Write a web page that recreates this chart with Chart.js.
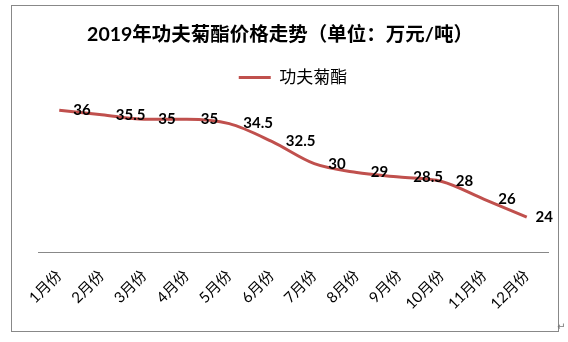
<!DOCTYPE html>
<html>
<head>
<meta charset="utf-8">
<title>2019年功夫菊酯价格走势</title>
<script src="https://cdn.jsdelivr.net/npm/chart.js@4/dist/chart.umd.min.js"></script>
<style>
  html, body { margin: 0; padding: 0; background: #fff; }
  #wrap { position: relative; width: 568px; height: 342px; }
  #priceChart { position: absolute; left: 0; top: 0; }
  #frame {
    position: absolute; left: 11px; top: 5px;
    width: 546px; height: 325px;
    border: 1px solid #888; pointer-events: none;
  }
  #mark {
    position: absolute; left: 557px; top: 321px;
    font: 10px "DejaVu Sans", sans-serif; color: #777;
  }
</style>
</head>
<body>
<div id="wrap">
  <canvas id="priceChart" width="568" height="342"></canvas>
  <div id="frame"></div>
  <span id="mark">↵</span>
</div>
<script>
// 月份 / 价格（万元/吨）
const months = ['1月份', '2月份', '3月份', '4月份', '5月份', '6月份',
                '7月份', '8月份', '9月份', '10月份', '11月份', '12月份'];
const prices = [36, 35.5, 35, 35, 34.5, 32.5, 30, 29, 28.5, 28, 26, 24];
const seriesName = '功夫菊酯';
const chartTitle = '2019年功夫菊酯价格走势（单位：万元/吨）';

const FONT = "Lato, 'Noto Sans CJK SC', sans-serif";
const LINE_COLOR = 'rgb(192, 80, 77)';

/**
 * Title drawn by hand so it can sit slightly left of the plot centre
 */
const titlePlugin = {
  id: 'manualTitle',
  afterDraw(chart) {
    const ctx = chart.ctx;
    ctx.save();
    ctx.font = 'bold 19.5px ' + FONT;
    ctx.fillStyle = '#000';
    ctx.textAlign = 'center';
    ctx.textBaseline = 'middle';
    ctx.fillText(chartTitle, 280, 35);
    ctx.restore();
  }
};

/**
 * Value labels to the right of each point
 */
const valueLabels = {
  id: 'valueLabels',
  afterDatasetsDraw(chart) {
    const ctx = chart.ctx;
    const meta = chart.getDatasetMeta(0);
    ctx.save();
    ctx.font = 'bold 15px ' + FONT;
    ctx.fillStyle = '#000';
    ctx.textAlign = 'left';
    ctx.textBaseline = 'middle';
    meta.data.forEach((pt, i) => {
      const text = String(prices[i]);
      const w = ctx.measureText(text).width;
      // keep the last label inside the frame
      const x = Math.min(pt.x + 14, 553 - w);
      ctx.fillText(text, x, pt.y);
    });
    ctx.restore();
  }
};

const ctx = document.getElementById('priceChart');
new Chart(ctx, {
  type: 'line',
  data: {
    labels: months,
    datasets: [{
      label: seriesName,
      data: prices,
      borderColor: LINE_COLOR,
      backgroundColor: LINE_COLOR,
      borderWidth: 3,
      pointRadius: 0,
      tension: 0.35,
      cubicInterpolationMode: 'monotone',
      fill: false
    }]
  },
  options: {
    responsive: false,
    animation: false,
    layout: {
      padding: { top: 64, left: 38, right: 20, bottom: 15 }
    },
    plugins: {
      title: { display: false },
      tooltip: { enabled: false },
      legend: {
        display: true,
        position: 'top',
        labels: {
          usePointStyle: true,
          pointStyle: 'line',
          pointStyleWidth: 32,
          padding: 5,
          color: '#000',
          font: { family: FONT, size: 17 }
        }
      }
    },
    scales: {
      x: {
        offset: true,
        grid: { display: false, drawTicks: false },
        border: { display: true, color: '#888', width: 1 },
        ticks: {
          minRotation: 45,
          maxRotation: 45,
          autoSkip: false,
          padding: 14,
          color: '#000',
          font: { family: FONT, size: 15 }
        }
      },
      y: {
        display: false,
        min: 20,
        max: 37.6
      }
    }
  },
  plugins: [titlePlugin, valueLabels]
});
</script>
</body>
</html>
